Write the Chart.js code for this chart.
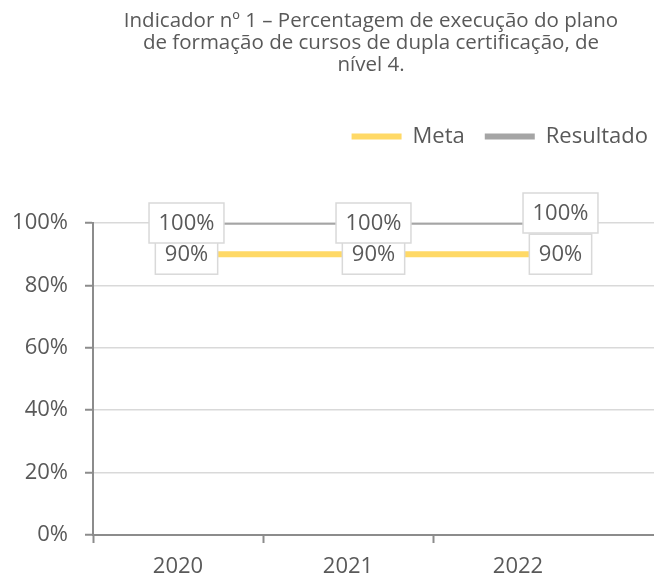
<!DOCTYPE html>
<html>
<head>
<meta charset="utf-8">
<script src="https://cdn.jsdelivr.net/npm/chart.js@4.4.1/dist/chart.umd.min.js"></script>
<style>
html,body{margin:0;padding:0;background:#ffffff;}
#wrap{width:654px;height:579px;}
</style>
</head>
<body>
<div id="wrap"><canvas id="c" width="654" height="579"></canvas></div>
<script>
// ---- data ----
const categories = ['2020', '2021', '2022'];
const metaValues = [90, 90, 90];
const resultadoValues = [100, 100, 100];
const yTickValues = [0, 20, 40, 60, 80, 100];
const seriesNames = ['Meta', 'Resultado'];
const titleLines = [
  'Indicador nº 1 – Percentagem de execução do plano',
  'de formação de cursos de dupla certificação, de',
  'nível 4.'
];

// ---- style ----
const FONT = "'Open Sans', 'Liberation Sans', sans-serif";
const TEXT = '#595959';
const AXIS = '#8C8C8C';
const GRID = '#D9D9D9';
const META_COLOR = '#FFD966';
const RES_COLOR = '#A5A5A5';
const labelNudgeY = { Meta: [0, 0, 0], Resultado: [0, 0, -10] };

Chart.defaults.font.family = FONT;
Chart.defaults.color = TEXT;

const toPoints = vals => categories.map((c, i) => ({ x: i, y: vals[i] }));

const titleShift = {
  id: 'titleShift',
  afterLayout(chart) {
    const t = chart.titleBlock;
    if (t) { t.left = chart.chartArea.left - 5; t.right = chart.width; }
  }
};

const valueLabels = {
  id: 'valueLabels',
  afterDatasetsDraw(chart) {
    const ctx = chart.ctx;
    ctx.save();
    ctx.font = '22px ' + FONT;
    chart.data.datasets.forEach((ds, di) => {
      const meta = chart.getDatasetMeta(di);
      meta.data.forEach((pt, i) => {
        const text = ds.data[i].y + '%';
        const w = ctx.measureText(text).width + 19;
        const h = 40;
        const nudge = (labelNudgeY[ds.label] || [])[i] || 0;
        const cx = pt.x, cy = pt.y + nudge;
        ctx.fillStyle = '#ffffff';
        ctx.fillRect(cx - w / 2, cy - h / 2, w, h);
        ctx.strokeStyle = GRID;
        ctx.lineWidth = 1.5;
        ctx.strokeRect(cx - w / 2, cy - h / 2, w, h);
        ctx.fillStyle = TEXT;
        ctx.textAlign = 'center';
        ctx.textBaseline = 'middle';
        ctx.fillText(text, cx, cy + 1);
      });
    });
    ctx.restore();
  }
};

new Chart(document.getElementById('c'), {
  type: 'line',
  data: {
    datasets: [
      { label: seriesNames[0], data: toPoints(metaValues), borderColor: META_COLOR, backgroundColor: META_COLOR,
        borderWidth: 6, pointRadius: 0, xAxisID: 'xd', yAxisID: 'y', tension: 0 },
      { label: seriesNames[1], data: toPoints(resultadoValues), borderColor: RES_COLOR, backgroundColor: RES_COLOR,
        borderWidth: 3.5, pointRadius: 0, xAxisID: 'xd', yAxisID: 'y', tension: 0 }
    ]
  },
  options: {
    responsive: false,
    animation: false,
    devicePixelRatio: 1,
    layout: { padding: { left: 0, right: -14, top: 0, bottom: 0 } },
    plugins: {
      tooltip: { enabled: false },
      title: {
        display: true, text: titleLines, color: TEXT, position: 'top',
        font: { family: FONT, size: 20.5, weight: 'normal', lineHeight: 22 / 20.5 },
        padding: { top: 10, bottom: 29.5 }
      },
      legend: {
        position: 'top', align: 'end',
        labels: {
          boxWidth: 50, boxHeight: 6, padding: 20, color: TEXT,
          font: { family: FONT, size: 22 },
          generateLabels: chart => chart.data.datasets.map((ds, i) => ({
            text: ds.label, fillStyle: ds.borderColor, strokeStyle: ds.borderColor,
            lineWidth: 0, hidden: false, datasetIndex: i, fontColor: TEXT
          }))
        }
      },
      subtitle: {
        display: true, text: '', position: 'top', weight: 100,
        font: { size: 10, lineHeight: 1 }, padding: { top: 55.5, bottom: 0 }
      }
    },
    scales: {
      x: {
        type: 'linear', position: 'bottom', min: -0.5, max: 2.8, bounds: 'data',
        afterBuildTicks: s => {
          const t = [];
          categories.forEach((c, i) => { t.push({ value: i - 0.5 }); t.push({ value: i }); });
          s.ticks = t;
        },
        afterFit: s => { s.height = 44; },
        ticks: {
          autoSkip: false, maxRotation: 0, minRotation: 0, padding: 11, color: TEXT,
          font: { family: FONT, size: 22 },
          callback: v => Number.isInteger(v) ? categories[v] : ''
        },
        grid: {
          drawOnChartArea: false, drawTicks: true, tickLength: 8, tickWidth: 2,
          tickColor: ctx => (ctx.tick && Number.isInteger(ctx.tick.value)) ? 'rgba(0,0,0,0)' : AXIS
        },
        border: { display: true, color: AXIS, width: 2 }
      },
      xd: {
        type: 'linear', display: false, min: -0.5, max: 2.5, bounds: 'data'
      },
      y: {
        type: 'linear', position: 'left', min: 0, max: 100, bounds: 'data',
        afterBuildTicks: s => { s.ticks = yTickValues.map(v => ({ value: v })); },
        afterFit: s => { s.width = 93; },
        ticks: {
          padding: 17, color: TEXT, font: { family: FONT, size: 22 },
          callback: v => v + '%'
        },
        grid: { color: GRID, lineWidth: 1.5, tickLength: 8, tickWidth: 2, tickColor: AXIS },
        border: { display: true, color: AXIS, width: 2 }
      }
    }
  },
  plugins: [titleShift, valueLabels]
});
</script>
</body>
</html>
